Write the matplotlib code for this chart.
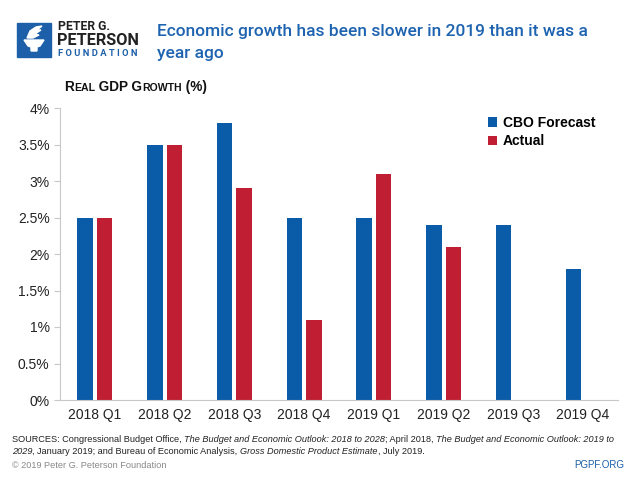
import matplotlib
matplotlib.use("Agg")
import matplotlib.pyplot as plt
from matplotlib.patches import Rectangle, Polygon
import numpy as np

categories = ["2018 Q1", "2018 Q2", "2018 Q3", "2018 Q4", "2019 Q1", "2019 Q2", "2019 Q3", "2019 Q4"]
cbo_forecast = [2.5, 3.5, 3.8, 2.5, 2.5, 2.4, 2.4, 1.8]
actual = [2.5, 3.5, 2.9, 1.1, 3.1, 2.1, np.nan, np.nan]
yticks = [0, 0.5, 1, 1.5, 2, 2.5, 3, 3.5, 4]
ytick_labels = ["0%", "0.5%", "1%", "1.5%", "2%", "2.5%", "3%", "3.5%", "4%"]

BLUE = "#0b5ca8"
RED = "#c01f33"
TITLE_BLUE = "#1d63b0"
COND = "Roboto"

plt.rcParams['font.family'] = ['Liberation Sans', 'DejaVu Sans']

fig = plt.figure(figsize=(6.4, 4.8), dpi=100)
ax = fig.add_axes([60/640, 1-400/480, (618-60)/640, (400-108)/480])

x = np.arange(len(categories))
w = 0.22
ax.bar(x - w/2 - 0.03, cbo_forecast, width=w, color=BLUE, label="CBO Forecast")
ax.bar(x + w/2 + 0.03, actual, width=w, color=RED, label="Actual")

ax.set_xlim(-0.5, len(categories) - 0.5)
ax.set_ylim(0, 4)
ax.set_yticks(yticks)
ax.set_yticklabels(ytick_labels, fontsize=10)
ax.set_xticks(x)
ax.set_xticklabels(categories, fontsize=10)
for s in ["top", "right"]:
    ax.spines[s].set_visible(False)
ax.spines["left"].set_color("#c8c8c8")
ax.spines["bottom"].set_color("#c8c8c8")
ax.tick_params(axis="y", colors="#c8c8c8", labelcolor="#222222", length=4)
ax.tick_params(axis="x", length=0, labelcolor="#222222", pad=6)

ax.legend(loc="upper right", bbox_to_anchor=(0.982, 1.015), frameon=False,
          handlelength=0.7, handleheight=0.7, handletextpad=0.4, labelspacing=0.3,
          prop={"weight": "bold", "size": 10})

renderer = fig.canvas.get_renderer()

def fit_text(x0, y0, s, target_w, **kw):
    t = fig.text(x0/640, 1-y0/480, s, va="baseline", **kw)
    bb = t.get_window_extent(renderer)
    t.set_fontsize(t.get_fontsize() * target_w / bb.width)
    return t

def runs(x0, y0, pieces, **common):
    xp = x0
    for s, kw in pieces:
        opts = dict(common)
        opts.update(kw)
        t = fig.text(xp/640, 1-y0/480, s, va="baseline", **opts)
        xp += t.get_window_extent(renderer).width
    return xp

# Logo
fig.patches.append(Rectangle((17/640, 1-57/480), 34/640, 34/480, transform=fig.transFigure,
                             color="#1d5fa8", zorder=5))
cup = [(24, 40), (44, 40), (40, 46), (37, 47), (37, 51), (31, 51), (31, 47), (28, 46)]
fig.patches.append(Polygon([(a/640, 1-b/480) for a, b in cup], closed=True,
                           transform=fig.transFigure, color="white", zorder=6))
flame = [(27, 38), (30, 31), (36, 27), (42, 26), (37, 30), (41, 30), (35, 34), (39, 35), (33, 38)]
fig.patches.append(Polygon([(a/640, 1-b/480) for a, b in flame], closed=True,
                           transform=fig.transFigure, color="white", zorder=6))
fit_text(58, 30, "PETER G.", 52, fontsize=9, weight="bold", color="#222222", family=COND)
fit_text(57, 45, "PETERSON", 82, fontsize=14, weight="bold", color="#222222", family=COND)
fit_text(58, 56, "F O U N D A T I O N", 80, fontsize=6, color="#1d5fa8", family=COND,
         weight="bold")

t1 = fit_text(157, 36, "Economic growth has been slower in 2019 than it was a", 433,
              fontsize=15, color=TITLE_BLUE, family=COND, weight="medium")
fig.text(157/640, 1-58/480, "year ago", color=TITLE_BLUE, va="baseline",
         family=COND, weight="medium", fontsize=t1.get_fontsize())

# Small-caps subtitle
big = {"fontsize": 9.8}
small = {"fontsize": 7.6}
runs(64, 91, [("R", big), ("EAL", small), (" GDP G", big), ("ROWTH", small), (" (%)", big)],
     weight="bold", color="#111111")

# Sources
it = {"style": "italic"}
rg = {}
fs = 6.6
runs(12, 442, [("SOURCES: Congressional Budget Office, ", rg),
               ("The Budget and Economic Outlook: 2018 to 2028", it),
               ("; April 2018, ", rg),
               ("The Budget and Economic Outlook: 2019 to", it)],
     fontsize=fs, color="#222222")
runs(12, 454, [("2029", it), (", January 2019; and Bureau of Economic Analysis, ", rg),
               ("Gross Domestic Product Estimate", it), (", July 2019.", rg)],
     fontsize=fs, color="#222222")
fig.text(12/640, 1-468/480, "© 2019 Peter G. Peterson Foundation", fontsize=6.6,
         color="#888888", va="baseline")
fig.text(624/640, 1-468/480, "PGPF.ORG", fontsize=7, color="#1d5fa8", va="baseline", ha="right")

fig.savefig("out.png", dpi=100)
